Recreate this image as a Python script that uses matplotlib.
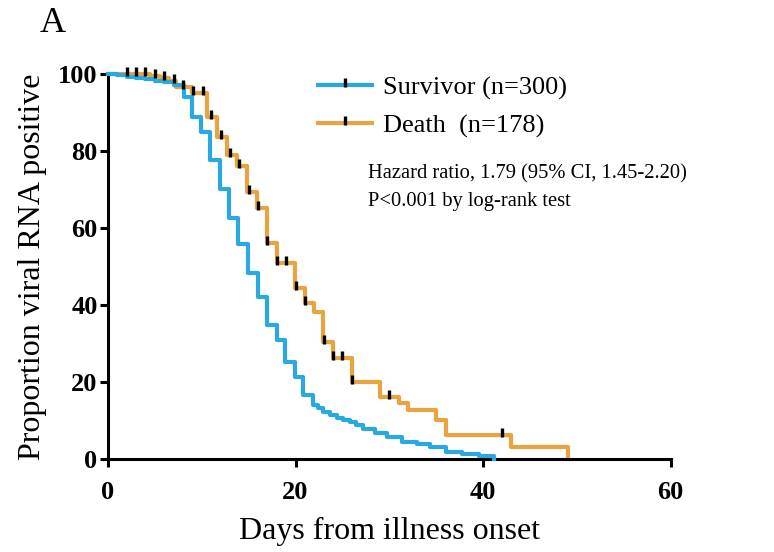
import matplotlib
matplotlib.use('Agg')
import matplotlib.pyplot as plt
from matplotlib.path import Path
from matplotlib.lines import Line2D
import numpy as np

plt.rcParams['font.family'] = ['Liberation Serif', 'DejaVu Serif']

# Kaplan-Meier steps (day, % still viral RNA positive)
surv_days = [0, 1, 2, 3, 4, 5, 6, 7, 8.1, 9.0, 9.9, 10.9, 11.9, 12.9, 13.9, 14.9,
             16.0, 17.0, 18.0, 18.9, 19.9, 20.8, 21.9, 22.4, 22.9, 23.7, 24.4,
             25.1, 25.8, 26.5, 27.2, 28.5, 29.8, 31.3, 33.0, 34.3, 36.0, 37.8,
             39.6, 41.2]
surv_pct = [100, 99.7, 99.3, 99.0, 98.7, 98.3, 98.0, 97.1, 94.0, 88.8, 84.9, 77.7,
            70.1, 62.6, 55.8, 48.3, 42.1, 34.8, 30.9, 25.2, 21.3, 16.6, 14.0, 13.2,
            12.2, 11.4, 10.6, 10.1, 9.6, 8.8, 7.8, 6.8, 5.7, 4.4, 3.9, 3.0, 1.8,
            1.3, 0.8, 0.0]

death_days = [0, 4.5, 5.5, 6.5, 7.3, 9.0, 10.6, 11.6, 12.7, 13.8, 14.8, 15.9, 17.0,
              18.0, 19.9, 21.0, 22.0, 22.9, 24.0, 26.0, 29.0, 31.0, 32.0, 35.0,
              36.0, 43.0, 49.0]
death_pct = [100, 99.4, 98.9, 98.3, 96.6, 95.0, 88.8, 83.7, 79.0, 76.2, 69.3, 65.2,
             56.2, 51.0, 44.4, 40.5, 38.2, 30.4, 26.2, 19.9, 16.1, 14.5, 12.7, 10.1,
             6.2, 3.1, 0.0]
death_censor = [2, 3, 4, 5, 6, 7, 8, 9.1, 10.1, 11, 12, 13, 14, 15, 16, 17, 18, 19,
                20, 21, 23, 24, 25, 26, 30, 42]

labels = ['Survivor (n=300)', 'Death  (n=178)']
blue = '#29A9DF'
orange = '#E9A33F'

# censor tick: short bar sitting mostly above the line
tick = Path([(0, -0.3), (0, 1)], [Path.MOVETO, Path.LINETO])

def level_at(days, pct, t):
    i = np.searchsorted(days, t, side='right') - 1
    return pct[i]

fig = plt.figure(figsize=(7.74, 5.52), dpi=100)
ax = fig.add_axes([0.1395, 0.1685, 0.727, 0.6975])

ax.plot(death_days, death_pct, drawstyle='steps-post', color=orange, lw=3,
        clip_on=False, zorder=2)
ax.plot(surv_days, surv_pct, drawstyle='steps-post', color=blue, lw=3,
        clip_on=False, zorder=3)
cens_y = [level_at(death_days, death_pct, t) for t in death_censor]
ax.plot(death_censor, cens_y, ls='none', marker=tick, ms=10, mew=2.4, mec='black',
        clip_on=False, zorder=4)

ax.set_xlim(0, 60)
ax.set_ylim(0, 100)
ax.set_xticks([0, 20, 40, 60])
ax.set_yticks([0, 20, 40, 60, 80, 100])
for s in ['top', 'right']:
    ax.spines[s].set_visible(False)
for s in ['left', 'bottom']:
    ax.spines[s].set_linewidth(2.2)
ax.tick_params(direction='out', length=5.5, width=2.2, labelsize=19)
ax.tick_params(axis='x', pad=10)
ax.tick_params(axis='y', pad=2)
for lab in ax.get_xticklabels() + ax.get_yticklabels():
    lab.set_fontweight('bold')

ax.set_xlabel('Days from illness onset', fontsize=23, labelpad=10)
ax.set_ylabel('Proportion viral RNA positive', fontsize=23, labelpad=8)

handles = [Line2D([0], [0], color=c, lw=3, marker=tick, ms=10, mew=2.4, mec='black')
           for c in (blue, orange)]
ax.legend(handles, labels, loc='upper left', bbox_to_anchor=(0.373, 0.995),
          frameon=False, fontsize=19, handlelength=2.05, handletextpad=0.42,
          labelspacing=0.54, numpoints=1, borderpad=0, borderaxespad=0)

ax.text(27.7, 74.0, 'Hazard ratio, 1.79 (95% CI, 1.45-2.20)', fontsize=14.8,
        va='center', ha='left')
ax.text(27.7, 67.0, 'P<0.001 by log-rank test', fontsize=14.8, va='center', ha='left')

fig.text(0.068, 0.958, 'A', fontsize=26, va='center', ha='center')

fig.savefig('out.png', dpi=100)
